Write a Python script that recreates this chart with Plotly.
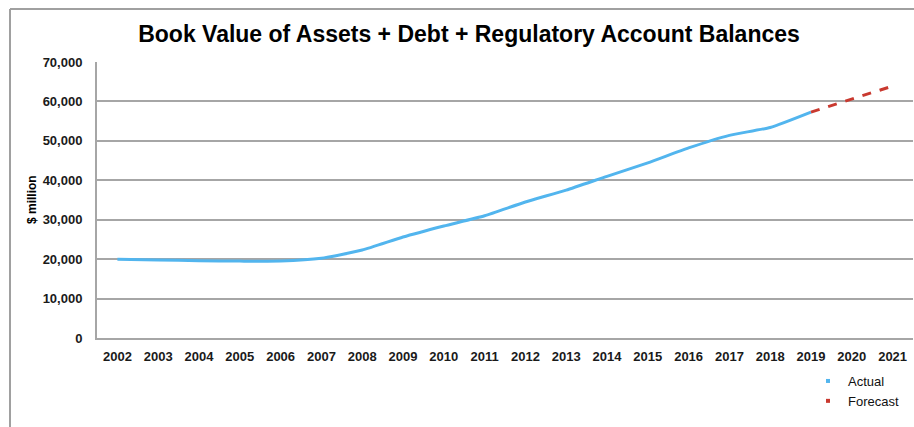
import plotly.graph_objects as go

years = [str(y) for y in range(2002, 2022)]
actual_years = years[:18]
actual_values = [20000, 19800, 19600, 19500, 19500, 20200, 22300, 25600, 28400, 31000,
                 34500, 37500, 41000, 44400, 48200, 51400, 53400, 57300]
forecast_years = ["2019", "2020", "2021"]
forecast_values = [57300, 60700, 63900]

blue = "#52B5EE"
red = "#C9392F"
grid = "#A6A6A6"

fig = go.Figure()
fig.add_trace(go.Scatter(x=actual_years, y=actual_values, mode="lines",
                         line=dict(color=blue, width=3, shape="spline", smoothing=0.5),
                         showlegend=False, name="Actual"))
fig.add_trace(go.Scatter(x=forecast_years, y=forecast_values, mode="lines",
                         line=dict(color=red, width=3, dash="dash"),
                         showlegend=False, name="Forecast"))
# legend entries (small square keys)
fig.add_trace(go.Scatter(x=[None], y=[None], mode="markers", name="Actual",
                         marker=dict(symbol="square", size=4, color=blue)))
fig.add_trace(go.Scatter(x=[None], y=[None], mode="markers", name="Forecast",
                         marker=dict(symbol="square", size=4, color=red)))

L, R, T, B = 97, 1, 62, 89
W, H = 914, 427
pw, ph = W - L - R, H - T - B

def px(x):
    return (x - L) / pw

def py(y):
    return (H - B - y) / ph

tickfont = dict(size=13, color="#1a1a1a", family="Liberation Sans, Arial, sans-serif", weight="bold")

fig.update_layout(
    width=W, height=H,
    margin=dict(l=L, r=R, t=T, b=B),
    paper_bgcolor="white", plot_bgcolor="white",
    font=dict(family="Liberation Sans, Arial, sans-serif", color="#000000"),
    title=dict(text="<b>Book Value of Assets + Debt + Regulatory Account Balances</b>",
               font=dict(size=23, color="#000000"),
               x=469 / W, xanchor="center", xref="container",
               y=1 - 34 / H, yanchor="middle", yref="container"),
    xaxis=dict(type="category", categoryorder="array", categoryarray=years,
               range=[-0.5, 19.5], showgrid=False, showline=True, linecolor=grid,
               linewidth=2, ticks="", tickfont=tickfont, ticklabelstandoff=5),
    yaxis=dict(range=[0, 70000], dtick=10000, tickformat=",", showgrid=True,
               gridcolor=grid, gridwidth=1.5, showline=True, linecolor=grid, linewidth=2,
               zeroline=False, ticks="", tickfont=tickfont, ticklabelstandoff=10),
    legend=dict(x=px(808), y=py(366), xanchor="left", yanchor="top",
                font=dict(size=13, color="#111111"), itemwidth=30, tracegroupgap=0,
                bgcolor="rgba(0,0,0,0)"),
    annotations=[dict(text="<b>$ million</b>", textangle=-90, x=px(32), y=py(200),
                      xref="paper", yref="paper", showarrow=False,
                      font=dict(size=12), xanchor="center", yanchor="middle")],
    shapes=[
        dict(type="line", xref="paper", yref="paper", x0=px(10), x1=px(914),
             y0=py(9), y1=py(9), line=dict(color="#A0A0A0", width=2)),
        dict(type="line", xref="paper", yref="paper", x0=px(10), x1=px(10),
             y0=py(9), y1=py(427), line=dict(color="#A0A0A0", width=2)),
    ],
)

fig.write_html("out.html")
